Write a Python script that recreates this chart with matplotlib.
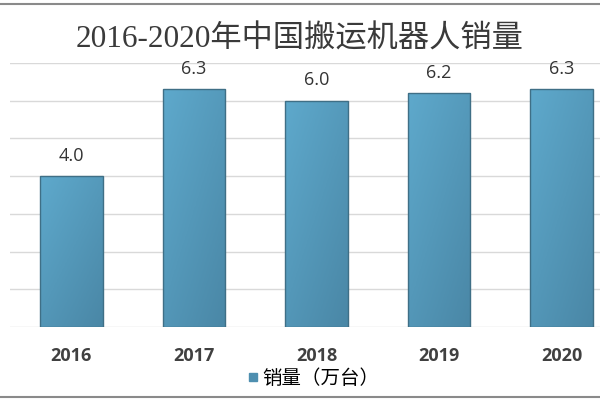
import numpy as np
import matplotlib.pyplot as plt
from matplotlib.lines import Line2D
from matplotlib.patches import Rectangle

plt.rcParams['font.family'] = ['Open Sans', 'Noto Sans CJK SC', 'DejaVu Sans']

years = ["2016", "2017", "2018", "2019", "2020"]
sales = [4.0, 6.3, 6.0, 6.2, 6.3]
title = "2016-2020年中国搬运机器人销量"
legend_label = "销量（万台）"

fig = plt.figure(figsize=(6, 4), dpi=100)
ax = fig.add_axes([10 / 600, 73 / 400, 613 / 600, 264 / 400])
x = np.arange(len(years))
bw = 0.51

# gradient fill for bars (light top-left -> darker bottom-right)
gx, gy = np.meshgrid(np.linspace(0, 1, 40), np.linspace(0, 1, 200))
grad = 0.55 * gy + 0.45 * gx
cmap = plt.matplotlib.colors.LinearSegmentedColormap.from_list(
    "bar", ["#5ea9cc", "#4a87a6"])

bars = ax.bar(x, sales, width=bw, color="none", edgecolor="#3f6f86",
              linewidth=1.0, zorder=3)
for b, v in zip(bars, sales):
    x0, y0 = b.get_x(), b.get_y()
    w, h = b.get_width(), b.get_height()
    im = ax.imshow(grad, cmap=cmap, extent=(x0, x0 + w, y0, y0 + h),
                   origin="upper", aspect="auto", zorder=2)
    clip = Rectangle((x0, y0), w, h, transform=ax.transData)
    im.set_clip_path(clip)
    ax.text(x0 + w / 2, y0 + h + 0.3, f"{v:.1f}",
            ha="center", va="bottom", fontsize=13, color="#333333")

ax.set_xlim(-0.5, len(years) - 0.5)
ax.set_ylim(0, 7)
ax.set_yticks(np.arange(0, 8, 1))
ax.yaxis.grid(True, color="#d9d9d9", linewidth=1)
ax.set_axisbelow(True)
ax.tick_params(left=False, bottom=False, labelleft=False)
ax.set_xticks(x)
ax.set_xticklabels(years, fontsize=13, fontweight="bold", color="#404040")
ax.tick_params(axis="x", pad=11)
for s in ax.spines.values():
    s.set_visible(False)

fig.text(0.5, 0.9, title, ha="center", va="center", fontsize=22.5,
         color="#3a3a3a", family=["Liberation Serif", "Noto Sans CJK SC"])

handle = Line2D([], [], marker="s", linestyle="none", markersize=6,
                markerfacecolor="#4e8fb0", markeredgecolor="#4e8fb0")
fig.legend([handle], [legend_label], loc="center", bbox_to_anchor=(0.52, 0.055),
           frameon=False, handletextpad=0.1, handlelength=0.8,
           prop={"family": ["Noto Sans CJK SC"], "size": 14})

fig.add_artist(Line2D([0, 1], [0.99, 0.99], transform=fig.transFigure,
                      color="#8a8a8a", linewidth=1.5))
fig.add_artist(Line2D([0, 1], [0.008, 0.008], transform=fig.transFigure,
                      color="#8a8a8a", linewidth=1.5))

fig.savefig("out.png", dpi=100)
